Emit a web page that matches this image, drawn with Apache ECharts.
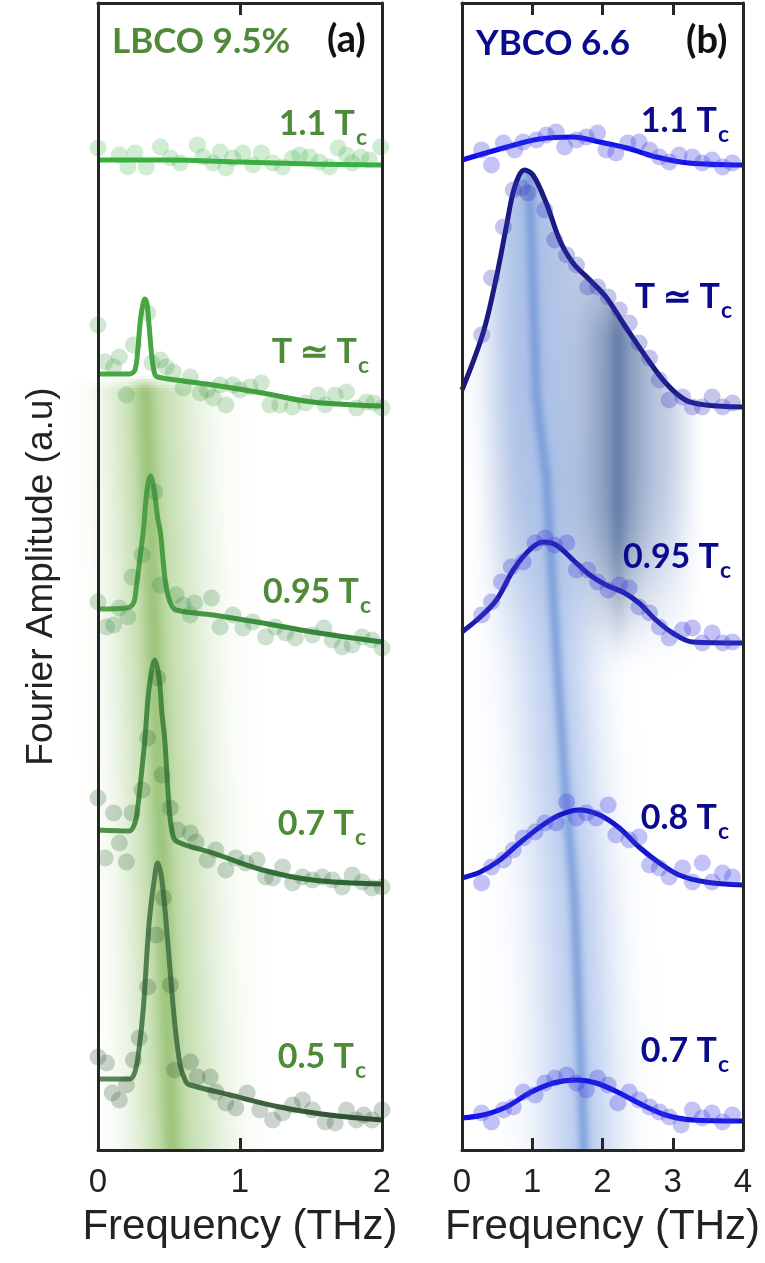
<!DOCTYPE html>
<html>
<head>
<meta charset="utf-8">
<script src="https://cdn.jsdelivr.net/npm/echarts/dist/echarts.min.js"></script>
<style>
html, body { margin: 0; padding: 0; background: #fff; }
#chart { width: 765px; height: 1263px; }
</style>
</head>
<body>
<div id="chart"></div>
<script>
// ---------- data: [frequency THz, amplitude (offset, a.u.)] ----------
var ticksA = [0, 1, 2];
var ticksB = [0, 1, 2, 3, 4];

// (a) LBCO 9.5% - fits
var fitA11 = [[0,9.88],[0.5,9.88],[1.0,9.86],[1.5,9.84],[2.0,9.83]];
var fitATc = [[0,7.74],[0.22,7.74],[0.26,7.78],[0.28,7.98],[0.30,8.30],[0.32,8.46],[0.33,8.49],[0.345,8.44],[0.36,8.22],[0.38,7.90],[0.40,7.74],[0.42,7.71],[0.6,7.67],[0.81,7.63],[1.16,7.55],[1.51,7.46],[2.0,7.42]];
var fitA095 = [[0,5.39],[0.20,5.40],[0.25,5.45],[0.27,5.61],[0.30,5.95],[0.32,6.18],[0.345,6.58],[0.37,6.72],[0.395,6.58],[0.42,6.30],[0.44,6.15],[0.46,5.85],[0.48,5.61],[0.51,5.45],[0.55,5.38],[0.81,5.33],[1.16,5.25],[1.51,5.16],[2.0,5.06]];
var fitA07 = [[0,3.18],[0.22,3.17],[0.26,3.25],[0.28,3.41],[0.31,3.80],[0.33,4.08],[0.36,4.60],[0.40,4.88],[0.43,4.70],[0.45,4.35],[0.47,4.08],[0.50,3.41],[0.52,3.18],[0.55,3.07],[0.81,2.95],[1.16,2.78],[1.51,2.68],[2.0,2.64]];
var fitA05 = [[0,0.69],[0.22,0.69],[0.26,0.76],[0.29,1.00],[0.32,1.41],[0.36,2.25],[0.40,2.72],[0.42,2.85],[0.45,2.68],[0.49,2.08],[0.54,1.25],[0.58,0.82],[0.62,0.66],[0.65,0.63],[0.93,0.53],[1.28,0.41],[1.63,0.33],[2.0,0.28]];

// (a) measured points
var ptsA11 = [[0,10.00],[0.15,9.93],[0.21,9.81],[0.26,9.95],[0.34,9.81],[0.44,10.01],[0.51,9.90],[0.58,9.85],[0.70,10.03],[0.74,9.91],[0.81,9.85],[0.86,9.96],[0.90,9.80],[0.95,9.90],[1.02,9.95],[1.09,9.83],[1.15,9.95],[1.23,9.85],[1.30,9.81],[1.37,9.90],[1.42,9.93],[1.49,9.91],[1.56,9.86],[1.63,9.81],[1.69,10.00],[1.75,9.93],[1.79,9.85],[1.85,9.91],[1.91,9.88],[1.99,10.01]];
var ptsATc = [[0,8.23],[0.05,7.86],[0.11,7.81],[0.15,7.91],[0.20,7.53],[0.25,8.03],[0.35,8.35],[0.38,7.85],[0.44,7.88],[0.48,7.81],[0.53,7.76],[0.60,7.60],[0.65,7.71],[0.72,7.55],[0.77,7.58],[0.81,7.50],[0.86,7.63],[0.90,7.43],[0.95,7.63],[1.00,7.58],[1.07,7.61],[1.15,7.65],[1.21,7.43],[1.28,7.43],[1.37,7.41],[1.46,7.45],[1.55,7.53],[1.60,7.43],[1.67,7.53],[1.75,7.56],[1.82,7.40],[1.89,7.46],[1.94,7.45],[2.00,7.40]];
var ptsA095 = [[0,5.46],[0.06,5.21],[0.11,5.23],[0.15,5.40],[0.21,5.31],[0.24,5.71],[0.31,5.93],[0.40,6.56],[0.44,5.63],[0.55,5.53],[0.60,5.43],[0.65,5.33],[0.68,5.45],[0.80,5.50],[0.86,5.21],[0.95,5.33],[1.02,5.20],[1.09,5.26],[1.18,5.11],[1.25,5.21],[1.32,5.15],[1.39,5.10],[1.51,5.13],[1.59,5.20],[1.65,5.08],[1.72,5.01],[1.79,5.03],[1.86,5.11],[1.93,5.08],[2.00,5.00]];
var ptsA07 = [[0,3.50],[0.05,2.90],[0.11,3.35],[0.15,3.05],[0.20,2.86],[0.24,3.35],[0.31,3.58],[0.35,4.10],[0.42,4.70],[0.45,3.73],[0.51,3.40],[0.56,3.18],[0.65,3.15],[0.69,3.06],[0.77,2.88],[0.83,2.98],[0.90,2.78],[0.97,2.90],[1.04,2.85],[1.12,2.88],[1.18,2.71],[1.23,2.70],[1.30,2.81],[1.37,2.65],[1.44,2.71],[1.51,2.68],[1.58,2.71],[1.65,2.68],[1.72,2.61],[1.79,2.73],[1.86,2.66],[1.93,2.60],[2.00,2.61]];
var ptsA05 = [[0,0.91],[0.06,0.85],[0.10,0.55],[0.15,0.48],[0.20,0.63],[0.25,0.88],[0.29,1.10],[0.35,1.61],[0.41,2.13],[0.46,2.50],[0.51,1.63],[0.54,0.78],[0.65,0.86],[0.70,0.71],[0.79,0.71],[0.83,0.56],[0.90,0.45],[0.97,0.40],[1.05,0.55],[1.14,0.38],[1.23,0.28],[1.30,0.35],[1.37,0.43],[1.44,0.48],[1.51,0.38],[1.60,0.26],[1.67,0.25],[1.75,0.38],[1.82,0.28],[1.87,0.33],[1.93,0.28],[2.00,0.38]];

// (b) YBCO 6.6 - fits
var fitB11 = [[0,9.88],[0.64,10.01],[1.1,10.09],[1.57,10.11],[1.96,10.06],[2.35,10.00],[2.77,9.91],[3.23,9.85],[4.0,9.83]];
var fitBTc = [[0,7.58],[0.3,8.15],[0.49,8.71],[0.63,9.21],[0.75,9.61],[0.89,9.78],[1.01,9.73],[1.2,9.45],[1.39,9.08],[1.58,8.85],[1.82,8.68],[2.05,8.51],[2.33,8.21],[2.62,7.91],[2.9,7.65],[3.18,7.48],[3.47,7.43],[4.0,7.41]];
var fitB095 = [[0,5.16],[0.26,5.31],[0.49,5.48],[0.73,5.78],[0.96,5.98],[1.15,6.06],[1.34,6.03],[1.58,5.88],[1.82,5.73],[2.05,5.63],[2.29,5.56],[2.52,5.45],[2.76,5.28],[3.0,5.15],[3.28,5.06],[4.0,5.05]];
var fitB08 = [[0,2.70],[0.26,2.76],[0.54,2.88],[0.82,3.05],[1.11,3.21],[1.39,3.33],[1.67,3.38],[1.96,3.33],[2.24,3.20],[2.52,3.01],[2.81,2.85],[3.09,2.73],[3.47,2.66],[4.0,2.63]];
var fitB07 = [[0,0.30],[0.3,0.33],[0.63,0.41],[0.96,0.55],[1.3,0.65],[1.63,0.68],[1.91,0.65],[2.24,0.55],[2.57,0.43],[2.9,0.33],[3.28,0.28],[4.0,0.27]];

// (b) measured points
var ptsB11 = [[0.28,9.98],[0.42,9.83],[0.59,10.05],[0.75,9.98],[0.87,10.06],[1.06,10.08],[1.20,10.13],[1.34,10.16],[1.46,10.01],[1.63,10.08],[1.77,10.11],[1.93,10.15],[2.05,9.98],[2.19,9.95],[2.36,10.05],[2.52,10.06],[2.67,9.98],[2.81,9.91],[2.95,9.86],[3.09,9.93],[3.28,9.91],[3.42,9.85],[3.56,9.88],[3.71,9.81],[3.85,9.85]];
var ptsBTc = [[0.28,8.13],[0.42,8.70],[0.59,9.21],[0.73,9.58],[0.85,9.60],[0.94,9.55],[1.18,9.38],[1.32,9.08],[1.49,8.93],[1.63,8.83],[1.79,8.61],[1.93,8.61],[2.08,8.51],[2.24,8.38],[2.38,8.25],[2.52,8.05],[2.67,7.90],[2.81,7.68],[2.95,7.48],[3.14,7.51],[3.28,7.41],[3.42,7.41],[3.56,7.51],[3.71,7.41],[3.85,7.45]];
var ptsB095 = [[0.28,5.33],[0.42,5.46],[0.56,5.66],[0.70,5.81],[0.87,5.86],[1.04,6.05],[1.18,6.10],[1.32,6.03],[1.49,6.05],[1.63,5.78],[1.79,5.78],[1.93,5.66],[2.08,5.58],[2.24,5.63],[2.38,5.60],[2.52,5.41],[2.67,5.35],[2.81,5.21],[2.95,5.10],[3.14,5.18],[3.28,5.20],[3.42,5.05],[3.56,5.15],[3.71,5.05],[3.85,5.06]];
var ptsB08 = [[0.28,2.65],[0.42,2.81],[0.59,2.88],[0.73,2.98],[0.87,3.10],[1.04,3.16],[1.18,3.25],[1.34,3.25],[1.49,3.46],[1.63,3.30],[1.77,3.35],[1.91,3.30],[2.08,3.43],[2.19,3.13],[2.38,3.08],[2.52,3.11],[2.67,2.83],[2.81,2.80],[2.95,2.71],[3.14,2.80],[3.28,2.66],[3.42,2.85],[3.56,2.66],[3.71,2.75],[3.85,2.71]];
var ptsB07 = [[0.28,0.35],[0.42,0.26],[0.59,0.38],[0.73,0.41],[0.87,0.56],[1.04,0.53],[1.18,0.65],[1.32,0.70],[1.49,0.73],[1.63,0.65],[1.77,0.58],[1.93,0.70],[2.08,0.63],[2.22,0.45],[2.38,0.56],[2.52,0.48],[2.67,0.41],[2.81,0.36],[2.95,0.31],[3.12,0.23],[3.28,0.38],[3.42,0.30],[3.56,0.35],[3.71,0.26],[3.85,0.33]];

var labelsA = ['1.1 T', 'T \u2243 T', '0.95 T', '0.7 T', '0.5 T'];
var labelsB = ['1.1 T', 'T \u2243 T', '0.95 T', '0.8 T', '0.7 T'];

// ---------- colours ----------
var greenText = '#4f8a37';
var blueText = '#0a0a8c';
var axisColor = '#262626';

// ---------- background shading (painted as thin strips with horizontal gradients) ----------
function clamp01(x) { return x < 0 ? 0 : (x > 1 ? 1 : x); }
function sstep(a, b, x) { var t = clamp01((x - a) / (b - a)); return t * t * (3 - 2 * t); }
function gauss(d, s) { return Math.exp(-0.5 * d * d / (s * s)); }
function mix(c, t, a) { return [c[0] + (t[0] - c[0]) * a, c[1] + (t[1] - c[1]) * a, c[2] + (t[2] - c[2]) * a]; }
function rgb(c) { return 'rgb(' + Math.round(c[0]) + ',' + Math.round(c[1]) + ',' + Math.round(c[2]) + ')'; }

// green band in (a): slowly drifting centre
function shadeA(f, v) {
    var top = clamp01((7.72 - v) / 0.15);
    var c = 0.34 + (7.3 - v) * 0.025;
    var d = f - c;
    var col = [255, 255, 255];
    col = mix(col, [125, 182, 80], top * 0.5 * gauss(d, d < 0 ? 0.19 : 0.25));
    col = mix(col, [118, 172, 72], top * 0.45 * gauss(d, 0.05));
    return col;
}

// blue bands in (b)
var bandCentreB = [[9.9, 0.95], [7.5, 1.06], [6.7, 1.2], [4.9, 1.35], [3.7, 1.46], [2.5, 1.6], [0.3, 1.72], [-0.1, 1.74]];
function centreAt(v) {
    for (var i = 0; i < bandCentreB.length - 1; i++) {
        var a = bandCentreB[i], b = bandCentreB[i + 1];
        if (v <= a[0] && v >= b[0]) return a[1] + (b[1] - a[1]) * (a[0] - v) / (a[0] - b[0]);
    }
    return v > bandCentreB[0][0] ? bandCentreB[0][1] : 1.74;
}
function shadeB(f, v) {
    var col = [255, 255, 255];
    var hx = sstep(0.15, 0.9, f) * (1 - sstep(2.8, 3.5, f));
    col = mix(col, [192, 205, 228], 0.95 * hx * sstep(4.6, 6.8, v));
    var d = f - centreAt(v);
    col = mix(col, [160, 186, 232], 0.7 * gauss(d, d < 0 ? 0.45 : 0.38));
    col = mix(col, [100, 140, 210], 0.6 * gauss(d, 0.06));
    var dv = (1 - sstep(8.0, 9.0, v)) * sstep(4.7, 6.4, v);
    var dd = f - 2.22;
    col = mix(col, [60, 90, 142], dv * 0.5 * gauss(dd, dd < 0 ? 0.32 : 0.3));
    col = mix(col, [50, 80, 135], dv * 0.3 * gauss(dd, 0.08));
    return col;
}

function shadeRenderer(fn, f0, f1, vTop, vBot) {
    return function (params, api) {
        var x0 = api.coord([f0, 0])[0], x1 = api.coord([f1, 0])[0];
        var y0 = api.coord([0, vTop])[1], y1 = api.coord([0, vBot])[1];
        var step = 3, n = Math.ceil((f1 - f0) / 0.03);
        var kids = [];
        for (var y = y0; y < y1; y += step) {
            var v = vTop - (y + step / 2 - y0) / (y1 - y0) * (vTop - vBot);
            var stops = [];
            for (var k = 0; k <= n; k++) {
                stops.push({ offset: k / n, color: rgb(fn(f0 + (f1 - f0) * k / n, v)) });
            }
            kids.push({
                type: 'rect',
                shape: { x: x0, y: y, width: x1 - x0, height: Math.min(step + 1, y1 - y) },
                style: { fill: { type: 'linear', x: 0, y: 0, x2: 1, y2: 0, colorStops: stops } }
            });
        }
        return { type: 'group', children: kids };
    };
}

// ---------- series helpers ----------
function fitLine(data, grid, color) {
    return {
        type: 'line', data: data, xAxisIndex: grid * 2, yAxisIndex: grid * 2,
        smooth: 0.35, showSymbol: false, symbol: 'none', z: 3,
        lineStyle: { width: 5, color: color }
    };
}
function points(data, grid, color) {
    return {
        type: 'scatter', data: data, xAxisIndex: grid * 2, yAxisIndex: grid * 2,
        symbolSize: 17, z: 4, itemStyle: { color: color }
    };
}
function hgrad(a, b) {
    return { type: 'linear', x: 0, y: 0, x2: 1, y2: 0, colorStops: [{ offset: 0, color: a }, { offset: 1, color: b }] };
}

// ---------- labels ----------
function tcLabel(text, xEnd, yCap, color) {
    return [
        { type: 'text', x: xEnd - 13, y: yCap + 2, z: 20,
          style: { text: text, fill: color, fontSize: 34, fontWeight: 'bold', fontFamily: 'Lato', align: 'right', verticalAlign: 'middle' } },
        { type: 'text', x: xEnd - 12, y: yCap + 16, z: 20,
          style: { text: 'c', fill: color, fontSize: 23, fontWeight: 'bold', fontFamily: 'Lato', align: 'left', verticalAlign: 'middle' } }
    ];
}
function title(text, x, yCap, color, size) {
    return { type: 'text', x: x, y: yCap + 2, z: 20,
        style: { text: text, fill: color, fontSize: size, fontWeight: 'bold', fontFamily: 'Lato', align: 'left', verticalAlign: 'middle' } };
}

var posA = [[368, 122], [370, 350], [372, 590], [367, 822], [367, 1055]];
var posB = [[730, 119], [733, 295], [732, 555], [730, 816], [730, 1049]];
var graphics = [
    title('LBCO 9.5%', 112, 40, greenText, 35),
    title('(a)', 327, 38, '#111', 38),
    title('YBCO 6.6', 476, 42, blueText, 35),
    title('(b)', 686, 39, '#111', 38)
];
labelsA.forEach(function (t, i) { graphics = graphics.concat(tcLabel(t, posA[i][0], posA[i][1], greenText)); });
labelsB.forEach(function (t, i) { graphics = graphics.concat(tcLabel(t, posB[i][0], posB[i][1], blueText)); });

// ---------- axes ----------
var frameLine = { show: true, onZero: false, lineStyle: { color: axisColor, width: 3 } };
var tickFont = { fontFamily: 'Liberation Sans', fontSize: 33, color: '#222' };
function xBottom(grid, ticks) {
    return {
        gridIndex: grid, type: 'value', position: 'bottom', z: 10,
        min: ticks[0], max: ticks[ticks.length - 1], interval: 1,
        name: 'Frequency (THz)', nameLocation: 'middle', nameGap: 56,
        nameTextStyle: { fontFamily: 'Liberation Sans', fontSize: 42, color: '#222' },
        axisLine: frameLine,
        axisTick: { show: true, inside: true, length: 12, lineStyle: { color: axisColor, width: 3 } },
        axisLabel: Object.assign({ margin: 16 }, tickFont),
        splitLine: { show: false }
    };
}
function xTop(grid, ticks) {
    return {
        gridIndex: grid, type: 'value', position: 'top', z: 10,
        min: ticks[0], max: ticks[ticks.length - 1], interval: 1,
        axisLine: frameLine,
        axisTick: { show: true, inside: true, length: 12, lineStyle: { color: axisColor, width: 3 } },
        axisLabel: { show: false }, splitLine: { show: false }
    };
}
function yAxisFor(grid, pos, withName) {
    var ax = {
        gridIndex: grid, type: 'value', position: pos, z: 10, min: -0.02, max: 11.45,
        axisLine: frameLine,
        axisTick: { show: false }, axisLabel: { show: false }, splitLine: { show: false }
    };
    if (withName) {
        ax.name = 'Fourier Amplitude (a.u)';
        ax.nameLocation = 'middle';
        ax.nameGap = 38;
        ax.nameRotate = 90;
        ax.nameTextStyle = { fontFamily: 'Liberation Sans', fontSize: 37, color: '#222' };
    }
    return ax;
}

var chart = echarts.init(document.getElementById('chart'), null, { renderer: 'canvas' });

var option = {
    backgroundColor: '#fff',
    animation: false,
    grid: [
        { left: 98, top: 3, width: 284, height: 1147 },
        { left: 462, top: 3, width: 281, height: 1147 }
    ],
    xAxis: [xBottom(0, ticksA), xTop(0, ticksA), xBottom(1, ticksB), xTop(1, ticksB)],
    yAxis: [yAxisFor(0, 'left', true), yAxisFor(0, 'right', false), yAxisFor(1, 'left', false), yAxisFor(1, 'right', false)],
    graphic: graphics,
    series: [
        // shading
        { type: 'custom', xAxisIndex: 0, yAxisIndex: 0, z: 1, silent: true, clip: false, data: [[0, 0]],
          renderItem: shadeRenderer(shadeA, -0.25, 1.2, 7.72, -0.02) },
        { type: 'custom', xAxisIndex: 2, yAxisIndex: 2, z: 1, silent: true, clip: false, data: [[0, 0]],
          renderItem: shadeRenderer(shadeB, 0, 4, 9.9, -0.02) },
        // blank out shading above the T~Tc curve of (b)
        { type: 'line', data: fitBTc, xAxisIndex: 2, yAxisIndex: 2, smooth: 0.35, symbol: 'none', z: 2, silent: true,
          lineStyle: { width: 0 }, areaStyle: { color: '#fff', opacity: 1, origin: 'end' } },

        // (a)
        fitLine(fitA11, 0, '#38b040'),
        fitLine(fitATc, 0, hgrad('#4aab45', '#3a9a3a')),
        fitLine(fitA095, 0, hgrad('#55a548', '#2f7f35')),
        fitLine(fitA07, 0, hgrad('#4f9447', '#2a5f32')),
        fitLine(fitA05, 0, hgrad('#5a8a55', '#2b4a30')),
        points(ptsA11, 0, 'rgba(60,175,70,0.3)'),
        points(ptsATc, 0, 'rgba(60,155,60,0.3)'),
        points(ptsA095, 0, 'rgba(50,130,60,0.3)'),
        points(ptsA07, 0, 'rgba(40,100,50,0.3)'),
        points(ptsA05, 0, 'rgba(40,80,50,0.3)'),

        // (b)
        fitLine(fitB11, 1, '#0c0ced'),
        fitLine(fitBTc, 1, '#1a1a80'),
        fitLine(fitB095, 1, '#1c1cb0'),
        fitLine(fitB08, 1, '#1414cc'),
        fitLine(fitB07, 1, '#0e0ee8'),
        points(ptsB11, 1, 'rgba(60,60,225,0.38)'),
        points(ptsBTc, 1, 'rgba(50,50,190,0.35)'),
        points(ptsB095, 1, 'rgba(60,60,215,0.38)'),
        points(ptsB08, 1, 'rgba(60,60,225,0.38)'),
        points(ptsB07, 1, 'rgba(60,60,225,0.38)')
    ]
};
chart.setOption(option);
</script>
</body>
</html>
